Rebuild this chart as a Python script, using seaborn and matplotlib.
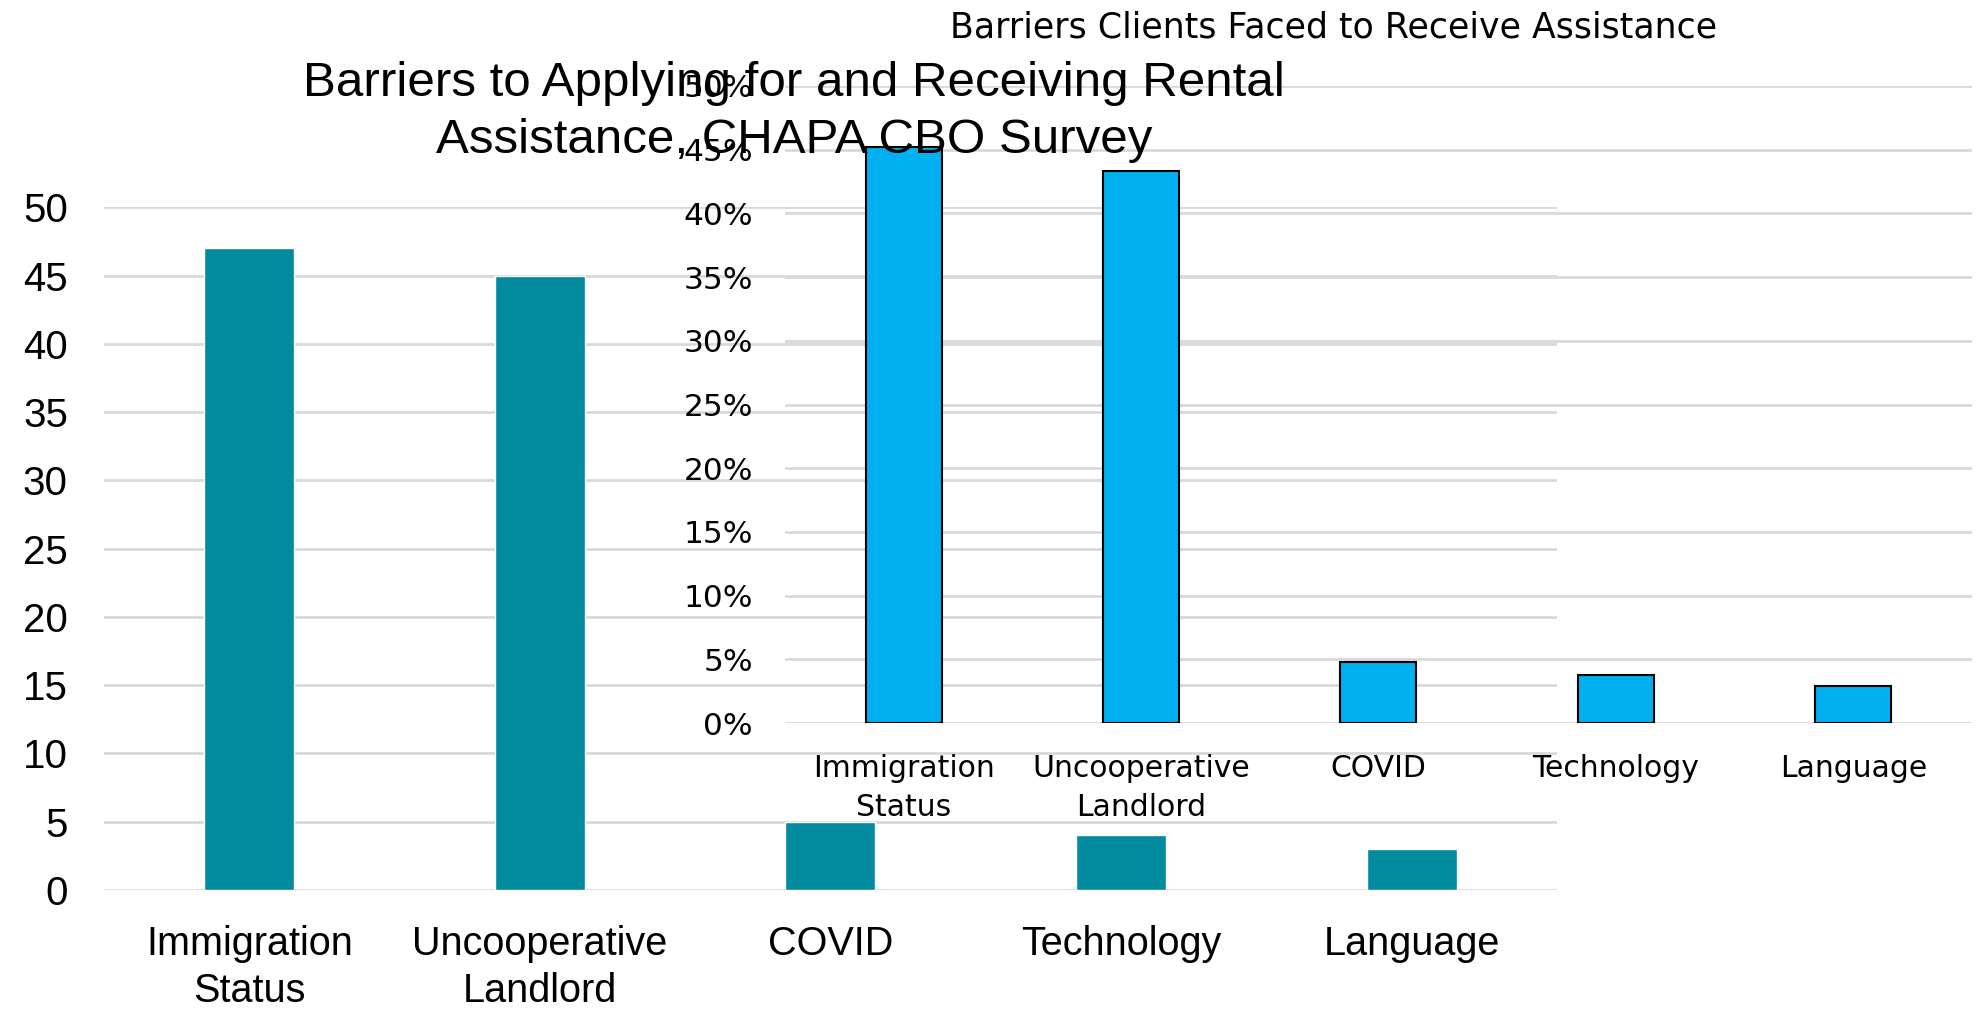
import pandas as pd
import matplotlib
matplotlib.use("Agg")
import matplotlib.pyplot as plt
import seaborn as sns
from matplotlib.ticker import PercentFormatter

# Data
categories = ["Immigration\nStatus", "Uncooperative\nLandlord", "COVID", "Technology", "Language"]
counts = [47, 45, 5, 4, 3]
shares = [0.452, 0.433, 0.048, 0.038, 0.029]
count_ticks = [0, 5, 10, 15, 20, 25, 30, 35, 40, 45, 50]
share_ticks = [0, 0.05, 0.10, 0.15, 0.20, 0.25, 0.30, 0.35, 0.40, 0.45, 0.50]

back_title = "Barriers to Applying for and Receiving Rental\nAssistance, CHAPA CBO Survey"
front_title = "Barriers Clients Faced to Receive Assistance"

sns.set_theme(style="white")
BACK_FONT = ["Liberation Sans", "DejaVu Sans"]
FRONT_FONT = ["DejaVu Sans"]
plt.rcParams["font.family"] = BACK_FONT
plt.rcParams["text.color"] = "black"
plt.rcParams["xtick.color"] = "black"
plt.rcParams["ytick.color"] = "black"

fig = plt.figure(figsize=(19.82, 10.10), dpi=100)
fig.patch.set_facecolor("white")

# Back chart (counts)
ax1 = fig.add_axes([0.0525, 0.1188, 0.733, 0.676])
df1 = pd.DataFrame({"barrier": categories, "count": counts})
sns.barplot(data=df1, x="barrier", y="count", color="#028A9E", width=0.31,
            saturation=1, ax=ax1, zorder=3)
ax1.set_ylim(0, 50)
ax1.set_yticks(count_ticks)
ax1.grid(axis="y", color="#D9D9D9", linewidth=2, zorder=0)
ax1.set_axisbelow(True)
for s in ax1.spines.values():
    s.set_visible(False)
ax1.set_xlabel("")
ax1.set_ylabel("")
ax1.tick_params(axis="y", length=0, pad=26, labelsize=29)
ax1.tick_params(axis="x", length=0, pad=25, labelsize=28.5)
for lab in ax1.get_xticklabels():
    lab.set_linespacing(1.32)

fig.text(0.4006, 0.889, back_title, ha="center", va="center", fontsize=35.5,
         linespacing=1.33, family=BACK_FONT, zorder=10)

# Front chart (shares), transparent background
ax2 = fig.add_axes([0.396, 0.284, 0.599, 0.631])
ax2.patch.set_alpha(0)
df2 = pd.DataFrame({"barrier": categories, "share": shares})
sns.barplot(data=df2, x="barrier", y="share", color="#00B0F0", width=0.32,
            saturation=1, edgecolor="black", linewidth=1.5, ax=ax2, zorder=3)
ax2.set_ylim(0, 0.5)
ax2.set_yticks(share_ticks)
ax2.yaxis.set_major_formatter(PercentFormatter(1.0, decimals=0))
ax2.grid(axis="y", color="#D9D9D9", linewidth=2, zorder=0)
ax2.set_axisbelow(True)
for s in ax2.spines.values():
    s.set_visible(False)
ax2.set_xlabel("")
ax2.set_ylabel("")
ax2.tick_params(axis="y", length=0, pad=23, labelsize=22.5)
ax2.tick_params(axis="x", length=0, pad=22, labelsize=21.5)
for lab in ax2.get_yticklabels() + ax2.get_xticklabels():
    lab.set_family(FRONT_FONT)
for lab in ax2.get_xticklabels():
    lab.set_linespacing(1.45)

fig.text(0.673, 0.973, front_title, ha="center", va="center", fontsize=25,
         family=FRONT_FONT)

fig.savefig("out.png", dpi=100, facecolor="white")
